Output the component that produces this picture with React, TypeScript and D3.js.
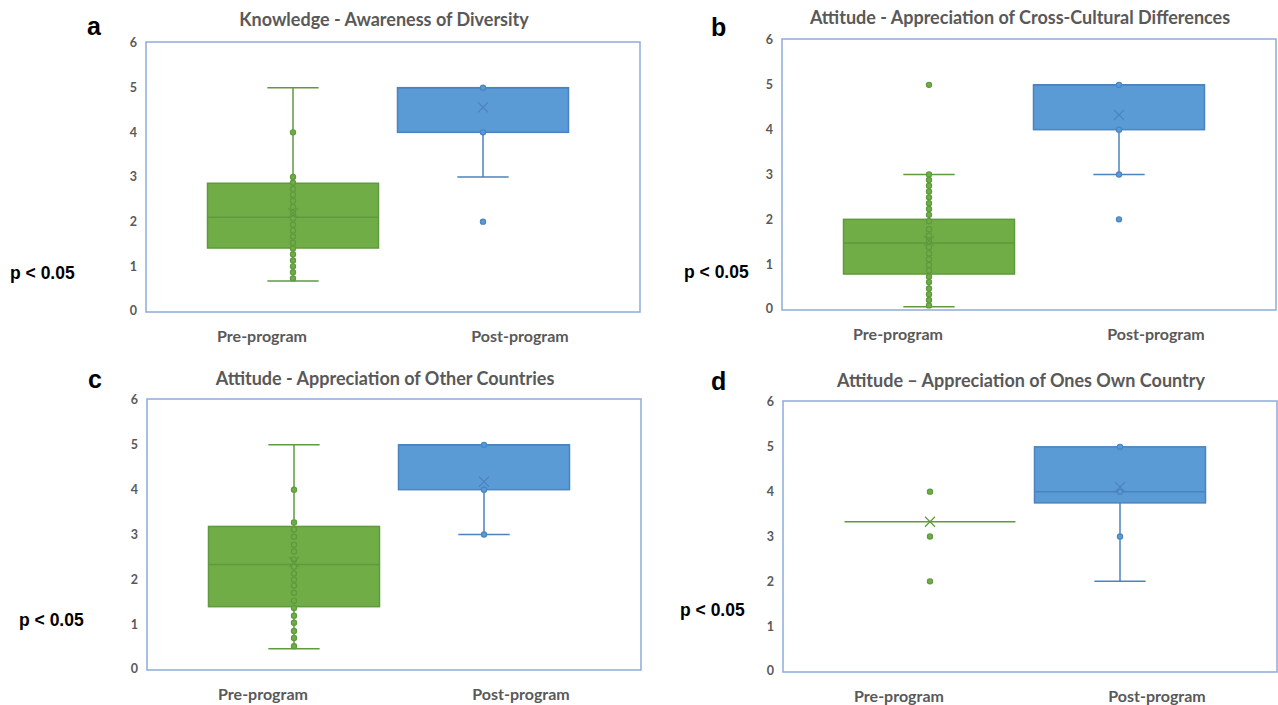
import React from "react"
import * as d3 from "d3"

// categories and panel texts
const categories = ["Pre-program", "Post-program"]
const panelLetters = ["a", "b", "c", "d"]
const titles = [
	"Knowledge - Awareness of Diversity",
	"Attitude - Appreciation of Cross-Cultural Differences",
	"Attitude - Appreciation of Other Countries",
	"Attitude \u2013 Appreciation of Ones Own Country",
]
const pLabel = "p < 0.05"
const yTicks = [0, 1, 2, 3, 4, 5, 6]

// box statistics, one entry per panel (a, b, c, d)
const preMin = [0.67, 0.05, 0.45, 3.33]
const preQ1 = [1.41, 0.78, 1.39, 3.33]
const preMedian = [2.1, 1.47, 2.33, 3.33]
const preQ3 = [2.86, 2.0, 3.18, 3.33]
const preMax = [5, 3, 5, 3.33]
const preMean = [2.19, 1.52, 2.39, 3.33]

const postMin = [3, 3, 3, 2]
const postQ1 = [4, 4, 4, 3.75]
const postMedian = [5, 5, 5, 4]
const postQ3 = [5, 5, 5, 5]
const postMax = [5, 5, 5, 5]
const postMean = [4.56, 4.33, 4.18, 4.1]

// visible points (inner points + outliers)
const prePoints = [
	[4, 3, 2.87, 2.73, 2.6, 2.47, 2.33, 2.2, 2.07, 1.93, 1.8, 1.67, 1.53, 1.4, 1.27, 1.13, 1.0, 0.87, 0.73],
	[5, 3, 2.88, 2.75, 2.62, 2.49, 2.36, 2.23, 2.1, 1.96, 1.78, 1.64, 1.51, 1.38, 1.24, 1.11, 0.98, 0.86, 0.72, 0.6, 0.46, 0.33, 0.2, 0.08],
	[4, 3.27, 3.11, 2.95, 2.77, 2.62, 2.44, 2.28, 2.13, 1.99, 1.86, 1.7, 1.52, 1.36, 1.19, 1.03, 0.85, 0.69, 0.51],
	[4, 3, 2],
]
const postPoints = [
	[5, 4, 2],
	[5, 4, 3, 2],
	[5, 4, 3],
	[5, 4, 3],
]

const GREEN = "#70AD47"
const GREEN_DARK = "#5E9A3E"
const BLUE = "#5B9BD5"
const BLUE_DARK = "#4A83BE"
const FRAME = "#8FAADC"
const GRAY = "#595959"

// frame placement of the four panels
const panels = [
	{ fx: 146, ft: 42, fb: 312, ty: 26, lx: 87, ly: 35, px: 10, py: 279 },
	{ fx: 782, ft: 39, fb: 310, ty: 24, lx: 711, ly: 36, px: 684, py: 278 },
	{ fx: 147, ft: 399, fb: 670, ty: 385, lx: 88, ly: 388, px: 19, py: 626 },
	{ fx: 783, ft: 401, fb: 672, ty: 387, lx: 711, ly: 390, px: 680, py: 616 },
]
const FRAME_W = 494

const BoxSeries = ({ x, y, cat, min, q1, med, q3, max, mean, points, fill, stroke }) => {
	const cx = x(cat) + x.bandwidth() / 2
	const bw = x.bandwidth() * 0.9
	const cap = bw * 0.3
	const m = 5
	return (
		<g>
			{max > q3 && (
				<>
					<line x1={cx} x2={cx} y1={y(q3)} y2={y(max)} stroke={stroke} strokeWidth={1.5} />
					<line x1={cx - cap / 2} x2={cx + cap / 2} y1={y(max)} y2={y(max)} stroke={stroke} strokeWidth={1.5} />
				</>
			)}
			{min < q1 && (
				<>
					<line x1={cx} x2={cx} y1={y(q1)} y2={y(min)} stroke={stroke} strokeWidth={1.5} />
					<line x1={cx - cap / 2} x2={cx + cap / 2} y1={y(min)} y2={y(min)} stroke={stroke} strokeWidth={1.5} />
				</>
			)}
			{q1 < q3 && (
				<rect x={cx - bw / 2} y={y(q3)} width={bw} height={y(q1) - y(q3)} fill={fill} stroke={stroke} strokeWidth={1.5} />
			)}
			<line x1={cx - bw / 2} x2={cx + bw / 2} y1={y(med)} y2={y(med)} stroke={stroke} strokeWidth={1.5} />
			{points.map((v, i) => (
				<circle key={i} cx={cx} cy={y(v)} r={2.6} fill={fill} stroke={stroke} strokeWidth={1.2} />
			))}
			<path
				d={`M${cx - m},${y(mean) - m}L${cx + m},${y(mean) + m}M${cx - m},${y(mean) + m}L${cx + m},${y(mean) - m}`}
				stroke={stroke}
				strokeWidth={1.2}
				fill="none"
			/>
		</g>
	)
}

const Panel = ({ i }) => {
	const p = panels[i]
	const y = d3.scaleLinear().domain([0, 6]).range([p.fb - 1, p.ft + 1])
	const x = d3.scaleBand().domain(categories).range([p.fx + 52, p.fx + 432])
	const labelX = d3.scalePoint().domain(categories).range([p.fx + 116, p.fx + 374])
	return (
		<g>
			<text x={p.lx} y={p.ly} fontFamily="Liberation Sans, Arial" fontWeight="bold" fontSize={25} fill="#000">
				{panelLetters[i]}
			</text>
			<text x={p.px} y={p.py} fontFamily="Liberation Sans, Arial" fontWeight="bold" fontSize={17.5} fill="#000">
				{pLabel}
			</text>
			<text x={p.fx + 238} y={p.ty} textAnchor="middle" fontFamily="Lato" fontWeight="bold" fontSize={18} fill={GRAY}>
				{titles[i]}
			</text>
			<rect x={p.fx} y={p.ft} width={FRAME_W} height={p.fb - p.ft} fill="#fff" stroke={FRAME} strokeWidth={1.5} />
			{yTicks.map(t => (
				<text key={t} x={p.fx - 9} y={y(t)} dy="0.35em" textAnchor="end" fontFamily="Lato" fontWeight="bold" fontSize={12.5} fill={GRAY}>
					{t}
				</text>
			))}
			{categories.map(c => (
				<text key={c} x={labelX(c)} y={p.fb + 30} textAnchor="middle" fontFamily="Lato" fontWeight="bold" fontSize={16} fill={GRAY}>
					{c}
				</text>
			))}
			<BoxSeries
				x={x}
				y={y}
				cat={categories[0]}
				min={preMin[i]}
				q1={preQ1[i]}
				med={preMedian[i]}
				q3={preQ3[i]}
				max={preMax[i]}
				mean={preMean[i]}
				points={prePoints[i]}
				fill={GREEN}
				stroke={GREEN_DARK}
			/>
			<BoxSeries
				x={x}
				y={y}
				cat={categories[1]}
				min={postMin[i]}
				q1={postQ1[i]}
				med={postMedian[i]}
				q3={postQ3[i]}
				max={postMax[i]}
				mean={postMean[i]}
				points={postPoints[i]}
				fill={BLUE}
				stroke={BLUE_DARK}
			/>
		</g>
	)
}

export default function App() {
	return (
		<svg width={1278} height={705} style={{ position: "absolute", left: 0, top: 0, background: "#fff" }}>
			{panels.map((_, i) => (
				<Panel key={i} i={i} />
			))}
		</svg>
	)
}
